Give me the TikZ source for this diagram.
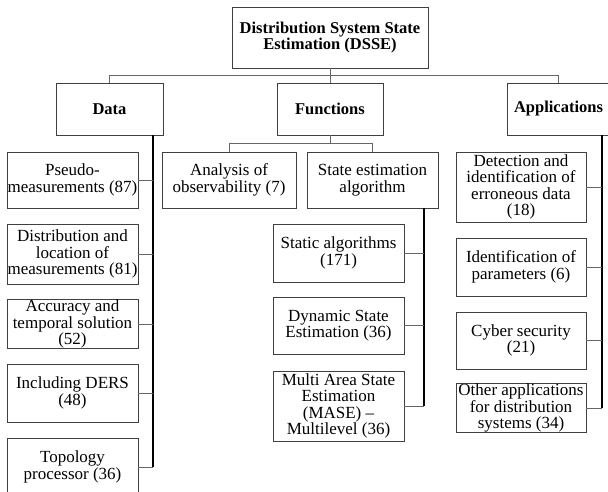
\documentclass[tikz,border=0pt]{standalone}
\usepackage{fontspec}
\setmainfont{Liberation Serif}

\tikzset{
  box/.style={draw=black!75, line width=0.8pt, inner sep=0pt, align=center,
              font=\fontsize{17}{16.5}\selectfont},
  head/.style={box, font=\fontsize{16.5}{16.5}\selectfont\bfseries},
  link/.style={draw=black!60, line width=0.8pt},
  trunk/.style={draw=black, line width=1.4pt},
}

% \mybox[style]{name}{x1}{y1}{x2}{y2}{text}: a box given by its corners
\newcommand\mybox[7][box]{%
  \node[#1, minimum width={(#5-#3)*1pt}, minimum height={(#6-#4)*1pt}]
    (#2) at ({(#3+#5)/2},{(#4+#6)/2}) {#7};%
}

\begin{document}
\begin{tikzpicture}[x=1pt, y=-1pt]
  \useasboundingbox (0,0) rectangle (608,491);
  \clip (0,0) rectangle (608,491);

  % top levels
  \mybox[head]{root}{232}{7}{428}{68}{Distribution System State\\Estimation (DSSE)}
  \mybox[head]{data}{56}{83}{163}{135}{Data}
  \mybox[head]{func}{277}{83}{383}{135}{Functions}
  \mybox[head]{apps}{507}{83}{610}{135}{Applications}

  % data branch
  \mybox{pseudo}{7}{152}{138}{208}{Pseudo-\\measurements (87)}
  \mybox{distrib}{7}{224}{138}{284}{Distribution and\\location of\\measurements (81)}
  \mybox{accur}{7}{300}{138}{348}{Accuracy and\\temporal solution\\(52)}
  \mybox{ders}{7}{364}{138}{422}{Including DERS\\(48)}
  \mybox{topo}{7}{438}{138}{496}{Topology\\processor (36)}

  % functions branch
  \mybox{observ}{162}{152}{296}{208}{Analysis of\\observability (7)}
  \mybox{stateest}{307}{152}{438}{208}{State estimation\\algorithm}
  \mybox{static}{273}{224}{404}{282}{Static algorithms\\(171)}
  \mybox{dynamic}{273}{297}{404}{354}{Dynamic State\\Estimation (36)}
  \mybox{multi}{273}{371}{404}{441}{Multi Area State\\Estimation\\(MASE) --\\Multilevel (36)}

  % applications branch
  \mybox{detect}{456}{152}{586}{222}{Detection and\\identification of\\erroneous data\\(18)}
  \mybox{ident}{456}{238}{586}{296}{Identification of\\parameters (6)}
  \mybox{cyber}{456}{312}{586}{369}{Cyber security\\(21)}
  \mybox{other}{456}{385}{586}{431}{Other applications\\for distribution\\systems (34)}

  % bus lines and trunk positions
  \coordinate (bus) at (0,75);
  \coordinate (fbus) at (0,143);
  \coordinate (dtr) at (153,0);
  \coordinate (str) at (424,0);
  \coordinate (atr) at (602,0);

  % first level connectors
  \draw[link] (root.south) -- (root.south |- bus);
  \draw[link] (data.north) -- (data.north |- bus) -- (apps.north |- bus) -- (apps.north);
  \draw[link] (func.north) -- (func.north |- bus);

  % functions sub-bus
  \draw[link] (func.south) -- (func.south |- fbus);
  \draw[link] (observ.north) -- (observ.north |- fbus) -- (stateest.north |- fbus) -- (stateest.north);

  % trunks
  \draw[trunk] (data.south -| dtr) -- (topo.east -| dtr);
  \draw[trunk] (stateest.south -| str) -- (multi.east -| str);
  \draw[trunk] (apps.south -| atr) -- (other.east -| atr);

  % branches off the trunks
  \foreach \n in {pseudo,distrib,accur,ders,topo}
    \draw[link] (\n.east) -- (\n.east -| dtr);
  \foreach \n in {static,dynamic,multi}
    \draw[link] (\n.east) -- (\n.east -| str);
  \foreach \n in {detect,ident,cyber,other}
    \draw[link] (\n.east) -- (\n.east -| atr);
\end{tikzpicture}
\end{document}
